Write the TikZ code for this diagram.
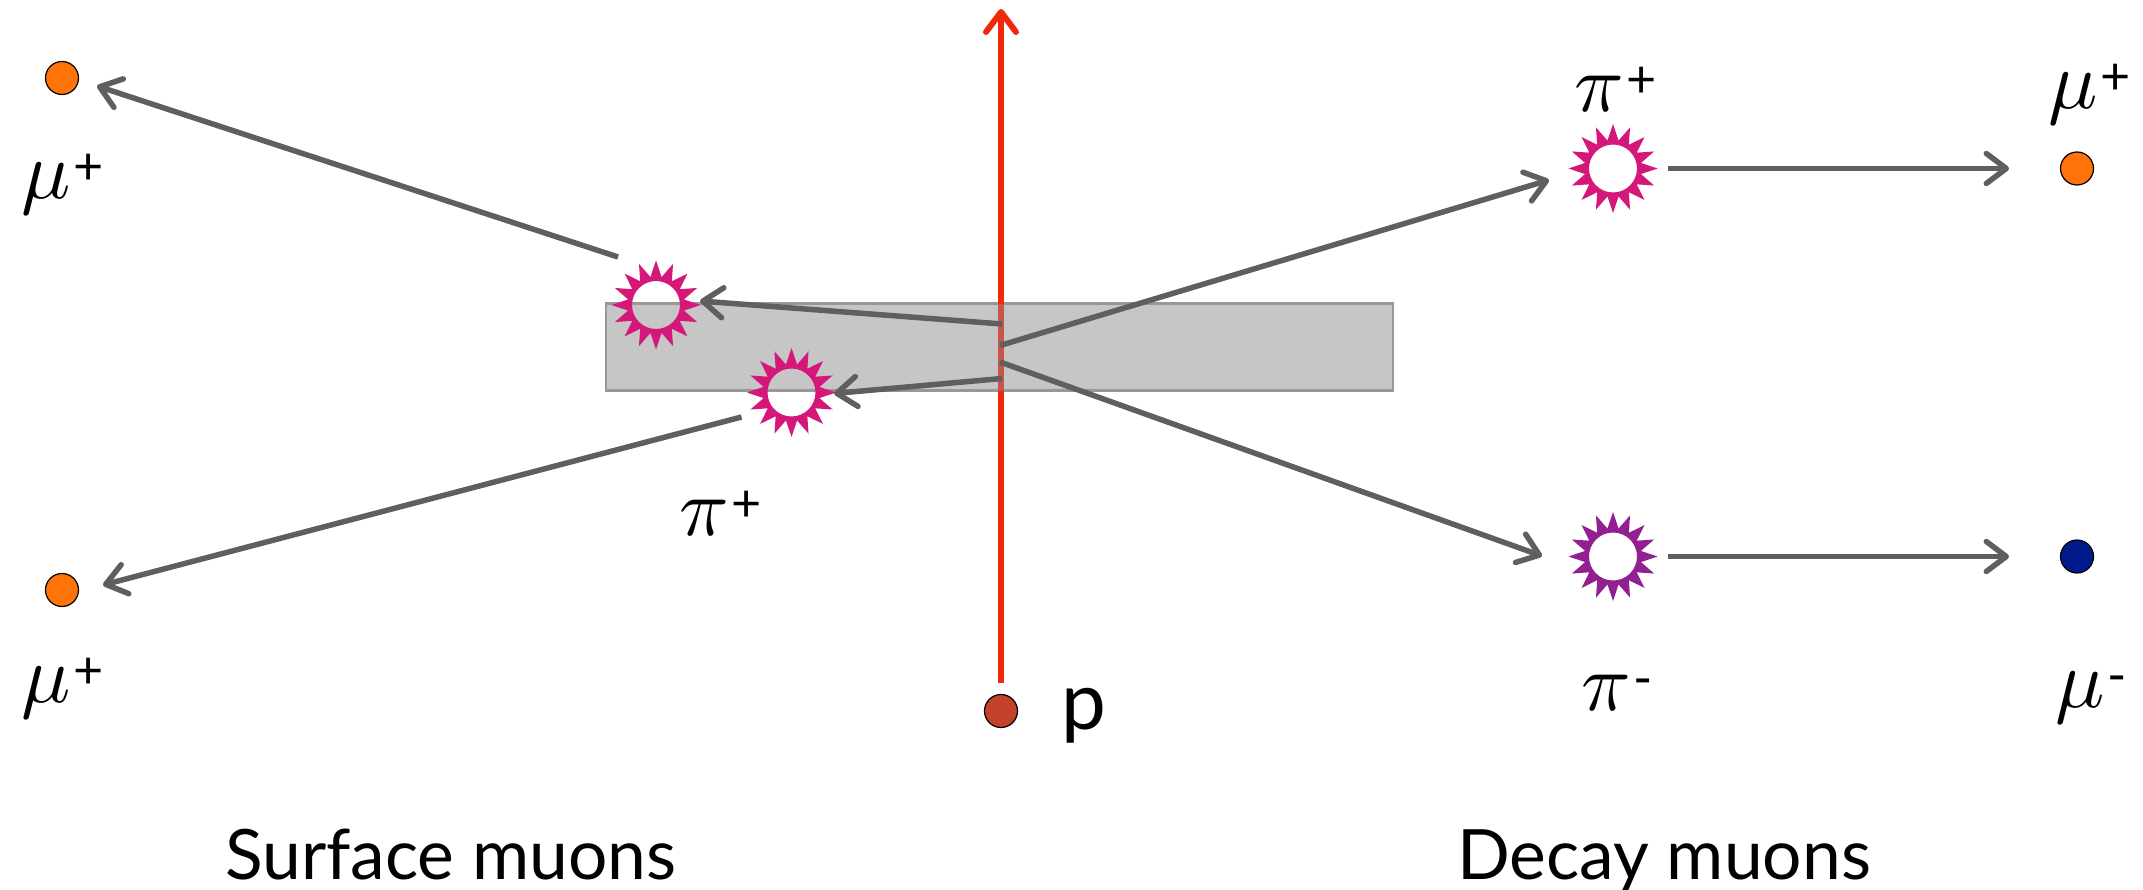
\documentclass[tikz,border=0pt]{standalone}
\usepackage{graphicx}
\usepackage{fontspec}
\setmainfont{Lato}
\usetikzlibrary{arrows.meta}
\definecolor{linegray}{HTML}{5F5F5F}
\definecolor{barfill}{HTML}{C6C6C6}
\definecolor{barline}{HTML}{989898}
\definecolor{beamred}{HTML}{F0280C}
\definecolor{beammix}{HTML}{C4574A}
\definecolor{pimag}{HTML}{D5177A}
\definecolor{pipur}{HTML}{932090}
\definecolor{muorange}{HTML}{FF7308}
\definecolor{mublue}{HTML}{001A8C}
\definecolor{pdot}{HTML}{C4412A}
\newcommand{\partlab}[2]{\scalebox{8.2}{\normalsize$#1$}\hspace{3pt}\raisebox{14pt}{\fontsize{52}{54}\selectfont #2}}
\newcommand{\sunburst}[3]{%
  \fill[#3,even odd rule] plot[samples at={0,...,31},variable=\k]
    ({#1+(mod(\k,2)==0?44.5:28.5)*cos(\k*11.25)},{#2+(mod(\k,2)==0?44.5:28.5)*sin(\k*11.25)}) -- cycle
    (#1,#2) circle[radius=24];}
\tikzset{
  conn/.style={draw=linegray,line width=5.5pt,-{Straight Barb[length=20pt,width=30pt,line width=5.5pt,round]}},
  beam/.style={draw=beamred,line width=6pt,-{Straight Barb[length=20pt,width=30pt,line width=6pt,round]}},
  dotnode/.style={circle,draw=black,line width=1.2pt,minimum size=33pt,inner sep=0pt},
  hub/.style={circle,minimum size=88pt,inner sep=0pt},
  lab/.style={anchor=base west,inner sep=0pt,text=black},
  capt/.style={anchor=base west,inner sep=0pt,text=black,font=\fontsize{69.5}{71}\selectfont},
}
\begin{document}
\begin{tikzpicture}[x=1pt,y=-1pt]
\useasboundingbox (0,0) rectangle (2143,890);
\fill[white] (0,0) rectangle (2143,890);
% target bar
\node[draw=barline,fill=barfill,line width=2.5pt,outer sep=0pt,minimum width=787pt,minimum height=87pt,inner sep=0pt,anchor=north west] (bar) at (606,303.5) {};
% pions
\sunburst{656}{305}{pimag}
\sunburst{791.5}{392.5}{pimag}
\sunburst{1613}{168.5}{pimag}
\sunburst{1613}{556.5}{pipur}
\node[hub] (pia) at (656,305) {};
\node[hub] (pib) at (791.5,392.5) {};
\node[hub] (pic) at (1613,168.5) {};
\node[hub] (pid) at (1613,556.5) {};
% muons and proton
\node[dotnode,fill=muorange] (mua) at (62,78) {};
\node[dotnode,fill=muorange] (mub) at (62,590) {};
\node[dotnode,fill=muorange] (muc) at (2077,168.5) {};
\node[dotnode,fill=mublue] (mud) at (2077,556.5) {};
\node[dotnode,fill=pdot] (prot) at (1001,711) {};
% free ends
\coordinate (beamstart) at (1001,683);
\coordinate (beamend) at (1001,9);
\coordinate (bartop) at (1001,304);
\coordinate (barbot) at (1001,391);
\coordinate (t1) at (1002,324);
\coordinate (e1) at (700,301);
\coordinate (t2) at (1002,378.5);
\coordinate (e2) at (834,393.5);
\coordinate (s3) at (618,257);
\coordinate (e3) at (97,86);
\coordinate (s4) at (741.5,417);
\coordinate (e4) at (103,585);
\coordinate (t5) at (1000,345.5);
\coordinate (e5) at (1549,180);
\coordinate (t6) at (1000,362);
\coordinate (e6) at (1542,556);
\coordinate (s7) at (1668,168.5);
\coordinate (e7) at (2009,168.5);
\coordinate (s8) at (1668,556.5);
\coordinate (e8) at (2009,556.5);
% beam
\draw[beam] (beamstart) -- (beamend);
\draw[beammix,line width=6pt] (bartop) -- (barbot);
% tracks
\draw[conn] (t1) -- (e1);
\draw[conn] (t2) -- (e2);
\draw[conn] (s3) -- (e3);
\draw[conn] (s4) -- (e4);
\draw[conn] (t5) -- (e5);
\draw[conn] (t6) -- (e6);
\draw[conn] (s7) -- (e7);
\draw[conn] (s8) -- (e8);
% labels
\node[lab] (l1) at (21,199) {\partlab{\mu}{+}};
\node[lab] (l2) at (21,702) {\partlab{\mu}{+}};
\node[lab] (l3) at (2048,109) {\partlab{\mu}{+}};
\node[lab] (l4) at (2055,707) {\partlab{\mu}{-}};
\node[lab] (l5) at (679,535) {\partlab{\pi}{+}};
\node[lab] (l6) at (1574,112) {\partlab{\pi}{+}};
\node[lab] (l7) at (1581,710) {\partlab{\pi}{-}};
\node[lab,font=\fontsize{80}{82}\selectfont] (l8) at (1061,729) {p};
\node[capt] (c1) at (225,879) {Surface muons};
\node[capt] (c2) at (1457,879) {Decay muons};
\end{tikzpicture}
\end{document}
